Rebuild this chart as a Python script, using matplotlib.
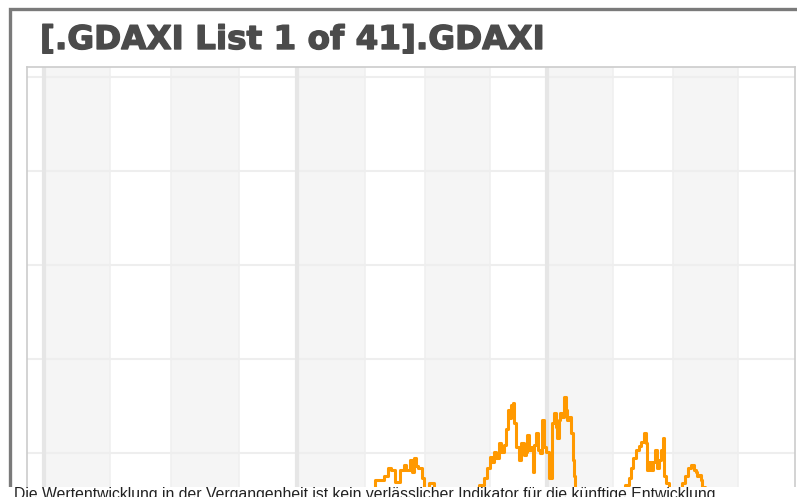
import matplotlib
matplotlib.use("Agg")
import matplotlib.pyplot as plt
import matplotlib.patheffects as pe
from matplotlib.patches import Rectangle

# === Chart data (days from first year line, index level in grid units) ===
title = "[.GDAXI List 1 of 41].GDAXI"
footer = ("Die Wertentwicklung in der Vergangenheit ist kein verlässlicher "
          "Indikator für die künftige Entwicklung.")

days = [0, 120, 250, 380, 470, 493, 497, 502, 507, 513, 521, 525, 529, 534, 537,
        539, 542, 547, 551, 555, 564, 570, 598, 627, 638, 643, 646, 650, 653,
        656, 659, 663, 667, 670, 673, 675, 677, 680, 683, 685, 688, 692, 696,
        699, 702, 704, 707, 710, 711, 714, 717, 720, 721, 726, 728, 733, 737,
        740, 743, 746, 747, 750, 752, 755, 758, 760, 762, 766, 768, 769, 771,
        774, 794, 823, 843, 848, 852, 855, 859, 864, 867, 870, 874, 877, 878,
        881, 884, 888, 890, 893, 896, 899, 900, 903, 906, 913, 925, 929, 935,
        939, 944, 947, 949, 951, 954, 957, 958, 965, 1000, 1040, 1080]
level = [0.30, 0.20, 0.35, 0.30, 0.50, 0.71, 0.76, 0.84, 0.82, 0.69, 0.82, 0.87,
         0.82, 0.93, 0.80, 0.95, 0.86, 0.84, 0.73, 0.59, 0.68, 0.55, 0.50, 0.55,
         0.66, 0.73, 0.84, 0.96, 0.90, 1.01, 0.95, 1.11, 1.01, 1.09, 1.25, 1.46,
         1.37, 1.51, 1.53, 1.32, 1.06, 0.93, 1.11, 0.98, 1.01, 1.19, 1.03, 1.06,
         0.80, 1.09, 1.21, 1.03, 1.00, 1.35, 1.06, 1.01, 0.73, 1.32, 1.43, 1.28,
         1.16, 1.35, 1.43, 1.38, 1.60, 1.46, 1.35, 1.38, 1.21, 0.93, 0.75, 0.61,
         0.45, 0.50, 0.59, 0.66, 0.73, 0.84, 0.95, 1.03, 1.07, 1.12, 1.21, 1.11,
         0.82, 0.90, 0.82, 0.90, 1.03, 0.84, 0.93, 1.03, 1.16, 0.75, 0.68, 0.55,
         0.59, 0.68, 0.75, 0.84, 0.87, 0.82, 0.80, 0.75, 0.77, 0.71, 0.64, 0.52,
         0.40, 0.35, 0.30]

year_lines = [0, 368, 731]
band_edges = [0, 96, 185, 284, 368, 467, 554, 649, 731, 827, 915, 1009, 1092]
grid_levels = [1, 2, 3, 4, 5]

# === Figure in pixel layout ===
W, H = 797, 497
fig = plt.figure(figsize=(W / 100, H / 100), dpi=100)


def px_rect(x0, y0, x1, y1):
    # pixel box (from top-left) -> figure fraction rect
    return [x0 / W, 1 - y1 / H, (x1 - x0) / W, (y1 - y0) / H]


# outer frame
fig.patches.append(Rectangle((10 / W, -0.2), 1.2, 1.2 - 8.5 / H,
                             transform=fig.transFigure, fill=False,
                             edgecolor="#7a7a7a", linewidth=2.4, zorder=1))

fig.text(40 / W, 1 - 49 / H, title, fontsize=23.5, fontweight="bold",
         family="DejaVu Sans", color="#4b4b4b", ha="left", va="baseline",
         path_effects=[pe.withStroke(linewidth=1.0, foreground="#4b4b4b")])

ax = fig.add_axes(px_rect(27, 67, 795, 487))
ax.set_xlim(-24.7, 1092)
ax.set_ylim(0.638, 5.106)

# alternating bands
for i in range(0, len(band_edges) - 1, 2):
    ax.axvspan(band_edges[i], band_edges[i + 1], color="#f5f5f5", lw=0, zorder=0)
for e in band_edges[1:-1]:
    ax.axvline(e, color="#efefef", lw=1.1, zorder=1)
for g in grid_levels:
    ax.axhline(g, color="#eeeeee", lw=1.5, zorder=1)
for yl in year_lines:
    ax.axvline(yl, color="#e6e6e6", lw=3, zorder=1)

ax.plot(days, level, color="#ff9900", lw=2.2, drawstyle="steps-mid", zorder=3)

ax.set_xticks([])
ax.set_yticks([])
for side in ["top", "left", "right"]:
    ax.spines[side].set_color("#cccccc")
    ax.spines[side].set_linewidth(1.2)
ax.spines["bottom"].set_visible(False)

# footer strip over the cut-off bottom
fig.patches.append(Rectangle((0, 0), 1, 10 / H, transform=fig.transFigure,
                             facecolor="white", edgecolor="none", zorder=5))
fig.text(14 / W, -1.5 / H, footer, fontsize=11.3, family="Liberation Sans",
         color="#222222", ha="left", va="baseline", zorder=6)

fig.savefig("out.png", dpi=100)
